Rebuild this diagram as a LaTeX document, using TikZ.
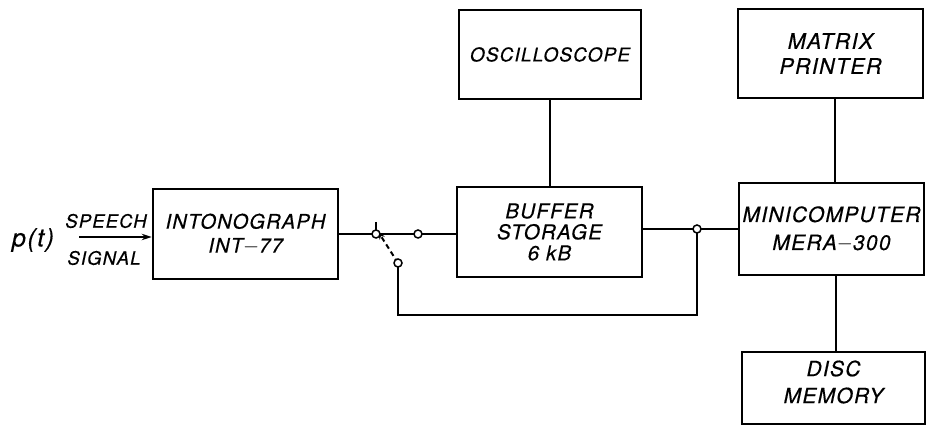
\documentclass[tikz,border=0pt]{standalone}
\usepackage{fontspec}
\setsansfont{TeX Gyre Heros}[LetterSpace=6,FakeBold=0.4]
\usetikzlibrary{arrows.meta}
\begin{document}
\begin{tikzpicture}[x=1pt,y=-1pt,
  blk/.style={draw, line width=2.8pt, rectangle, align=center, inner sep=0pt,
    font=\sffamily\itshape\fontsize{19}{25}\selectfont},
  txt/.style={align=center, inner sep=0pt, font=\sffamily\itshape\fontsize{20}{25}\selectfont},
  wire/.style={line width=1.8pt},
  term/.style={circle, draw, line width=1.5pt, fill=white, minimum size=8pt, inner sep=0pt},
  lbl/.style={inner sep=0pt, font=\sffamily\itshape\fontsize{18.5}{20}\selectfont}]
\useasboundingbox (0,0) rectangle (927,438);
\fill[white] (0,0) rectangle (927,438);

\node[blk, minimum width=182pt, minimum height=89pt] (osc) at (550,54.5) {OSCILLOSCOPE};
\node[blk, minimum width=185pt, minimum height=89pt,
  font=\sffamily\itshape\fontsize{21.5}{25}\selectfont] (prn) at (830.5,53.5) {MATRIX\\PRINTER};
\node[blk, minimum width=185pt, minimum height=90pt,
  font=\sffamily\itshape\fontsize{20}{24}\selectfont] (into) at (245.5,234) {INTONOGRAPH\\INT$-$77};
\node[blk, minimum width=185pt, minimum height=90pt,
  font=\sffamily\itshape\fontsize{20.5}{21}\selectfont] (buf) at (549.5,232) {BUFFER\\STORAGE\\6 kB};
\node[blk, minimum width=185pt, minimum height=92pt,
  font=\sffamily\itshape\fontsize{21}{28}\selectfont] (mini) at (831.5,229) {MINICOMPUTER\\MERA$-$300};
\node[blk, minimum width=183pt, minimum height=72pt] (disc) at (833.5,388) {};
\node[txt, font=\sffamily\itshape\fontsize{21}{27}\selectfont] (disctxt) at (833.5,382) {DISC\\MEMORY};

\node[lbl, font=\sffamily\itshape\fontsize{25}{26}\selectfont] (pt) at (33,240) {p(t)};
\node[lbl] (sp) at (106,221) {SPEECH};
\node[lbl] (sg) at (104,258) {SIGNAL};
\coordinate (in) at (79,237);
\draw[wire, -{Stealth[length=10pt,width=6.5pt]}] (in) -- (into.west |- in);

% vertical links
\draw[wire] (osc.south) -- (osc.south |- buf.north);
\draw[wire] ([xshift=4.5pt]prn.south) -- ([xshift=4.5pt]prn.south |- mini.north);
\draw[wire] ([xshift=4.5pt]mini.south) -- ([xshift=4.5pt]mini.south |- disc.north);

% switch
\coordinate (P) at (376,234);
\coordinate (C1) at (418,234);
\coordinate (C2) at (398,263);
\coordinate (J) at (697,229);
\coordinate (B1) at (398,315);
\coordinate (B2) at (697,315);
\coordinate (tick) at (376,222);

\draw[wire] (into.east |- P) -- (P);
\draw[line width=2.6pt] (P) -- (C1);
\draw[wire] (C1) -- (buf.west |- C1);
\draw[wire] (tick) -- (P);
\draw[line width=2pt, dash pattern=on 5pt off 3.5pt, -{Stealth[length=8pt,width=6pt]}] (C2) -- ([shift={(2pt,2.5pt)}]P);
\draw[wire] (C2) -- (B1) -- (B2) -- (J);
\draw[wire] (buf.east |- J) -- (J) -- (mini.west |- J);

\node[term] (tp) at (P) {};
\node[term] (tc1) at (C1) {};
\node[term] (tc2) at (C2) {};
\node[term] (tj) at (J) {};
\end{tikzpicture}
\end{document}
